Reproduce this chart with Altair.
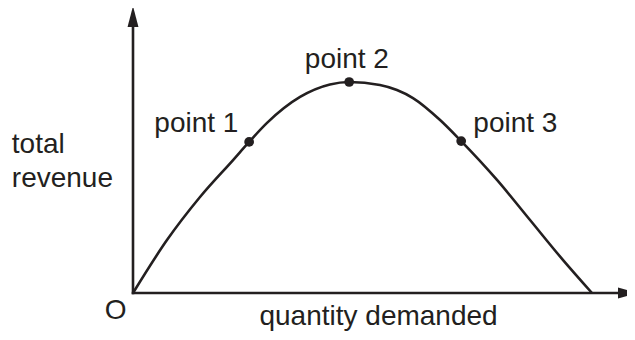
import altair as alt
import pandas as pd

# ---- data ----
quantity = [0, 7.4, 14.6, 21.8, 25.3, 29.2, 36.4, 42.9, 47.1, 53.8, 57.5, 61.0, 66.9, 71.5, 79.3, 86.5, 93.7, 100]
revenue = [0, 25.1, 45.5, 63.0, 71.6, 80.6, 92.9, 98.8, 100, 98.6, 96.2, 92.4, 82.0, 72.0, 53.6, 34.6, 15.6, 0]

point_names = ["point 1", "point 2", "point 3"]
point_q = [25.3, 47.1, 71.5]
point_r = [71.6, 100, 72.0]
label_q = [13.8, 46.6, 83.3]
label_r = [76.3, 106.6, 76.3]

y_title_lines = ["total", "revenue"]
y_title_q = [-26.4, -26.4]
y_title_r = [66.4, 50.2]

x_title = ["quantity demanded"]
x_title_q = [53.5]
x_title_r = [-15.2]

origin_label = ["O"]
origin_q = [-3.8]
origin_r = [-12.3]

axis_names = ["x axis", "y axis"]
axis_q0 = [0, 0]
axis_r0 = [0, 0]
axis_q1 = [106.1, 0]
axis_r1 = [0, 125.6]

arrow_up_q = [0]
arrow_up_r = [131.0]
arrow_right_q = [107.95]
arrow_right_r = [0]

X_DOMAIN = [-27.233, 107.625]
Y_DOMAIN = [-18.48, 135.07]
INK = "#231f20"
FONT = "Liberation Sans"
FS = 28

xs = alt.Scale(domain=X_DOMAIN, nice=False, zero=False)
ys = alt.Scale(domain=Y_DOMAIN, nice=False, zero=False)


def X(f):
    return alt.X(f"{f}:Q", scale=xs, axis=None)


def Y(f):
    return alt.Y(f"{f}:Q", scale=ys, axis=None)


curve_df = pd.DataFrame({"q": quantity, "r": revenue})
pts_df = pd.DataFrame({"name": point_names, "q": point_q, "r": point_r})
lbl_df = pd.DataFrame({"name": point_names, "q": label_q, "r": label_r})
ytitle_df = pd.DataFrame({"t": y_title_lines, "q": y_title_q, "r": y_title_r})
xtitle_df = pd.DataFrame({"t": x_title, "q": x_title_q, "r": x_title_r})
origin_df = pd.DataFrame({"t": origin_label, "q": origin_q, "r": origin_r})
axes_df = pd.DataFrame({"a": axis_names, "q0": axis_q0, "r0": axis_r0, "q1": axis_q1, "r1": axis_r1})
up_df = pd.DataFrame({"q": arrow_up_q, "r": arrow_up_r})
right_df = pd.DataFrame({"q": arrow_right_q, "r": arrow_right_r})

axes = alt.Chart(axes_df).mark_rule(color=INK, strokeWidth=2.6, strokeCap="square").encode(
    x=X("q0"), y=Y("r0"), x2="q1:Q", y2="r1:Q"
)
arrow_up = alt.Chart(up_df).mark_point(
    shape="M0,-1L0.52,1L-0.52,1Z", filled=True, color=INK, opacity=1, size=441, strokeWidth=0
).encode(x=X("q"), y=Y("r"))
arrow_right = alt.Chart(right_df).mark_point(
    shape="M1,0L-1,-0.52L-1,0.52Z", filled=True, color=INK, opacity=1, size=441, strokeWidth=0
).encode(x=X("q"), y=Y("r"))

curve = alt.Chart(curve_df).mark_line(interpolate="monotone", color=INK, strokeWidth=2.6).encode(
    x=X("q"), y=Y("r")
)
dots = alt.Chart(pts_df).mark_point(filled=True, color=INK, opacity=1, size=95, shape="circle").encode(
    x=X("q"), y=Y("r")
)
labels = alt.Chart(lbl_df).mark_text(
    font=FONT, fontSize=FS, color=INK, align="center", baseline="alphabetic"
).encode(x=X("q"), y=Y("r"), text="name:N")
ytitle = alt.Chart(ytitle_df).mark_text(
    font=FONT, fontSize=FS, color=INK, align="left", baseline="alphabetic"
).encode(x=X("q"), y=Y("r"), text="t:N")
xtitle = alt.Chart(xtitle_df).mark_text(
    font=FONT, fontSize=FS, color=INK, align="center", baseline="alphabetic"
).encode(x=X("q"), y=Y("r"), text="t:N")
origin = alt.Chart(origin_df).mark_text(
    font=FONT, fontSize=FS, color=INK, align="center", baseline="alphabetic"
).encode(x=X("q"), y=Y("r"), text="t:N")

chart = (
    alt.layer(axes, arrow_up, arrow_right, curve, dots, labels, ytitle, xtitle, origin)
    .properties(width=619, height=324, padding=0, autosize=alt.AutoSizeParams(type="none"))
    .configure_view(stroke=None)
)

chart.save("out.html", embed_options={"renderer": "svg", "actions": False})
